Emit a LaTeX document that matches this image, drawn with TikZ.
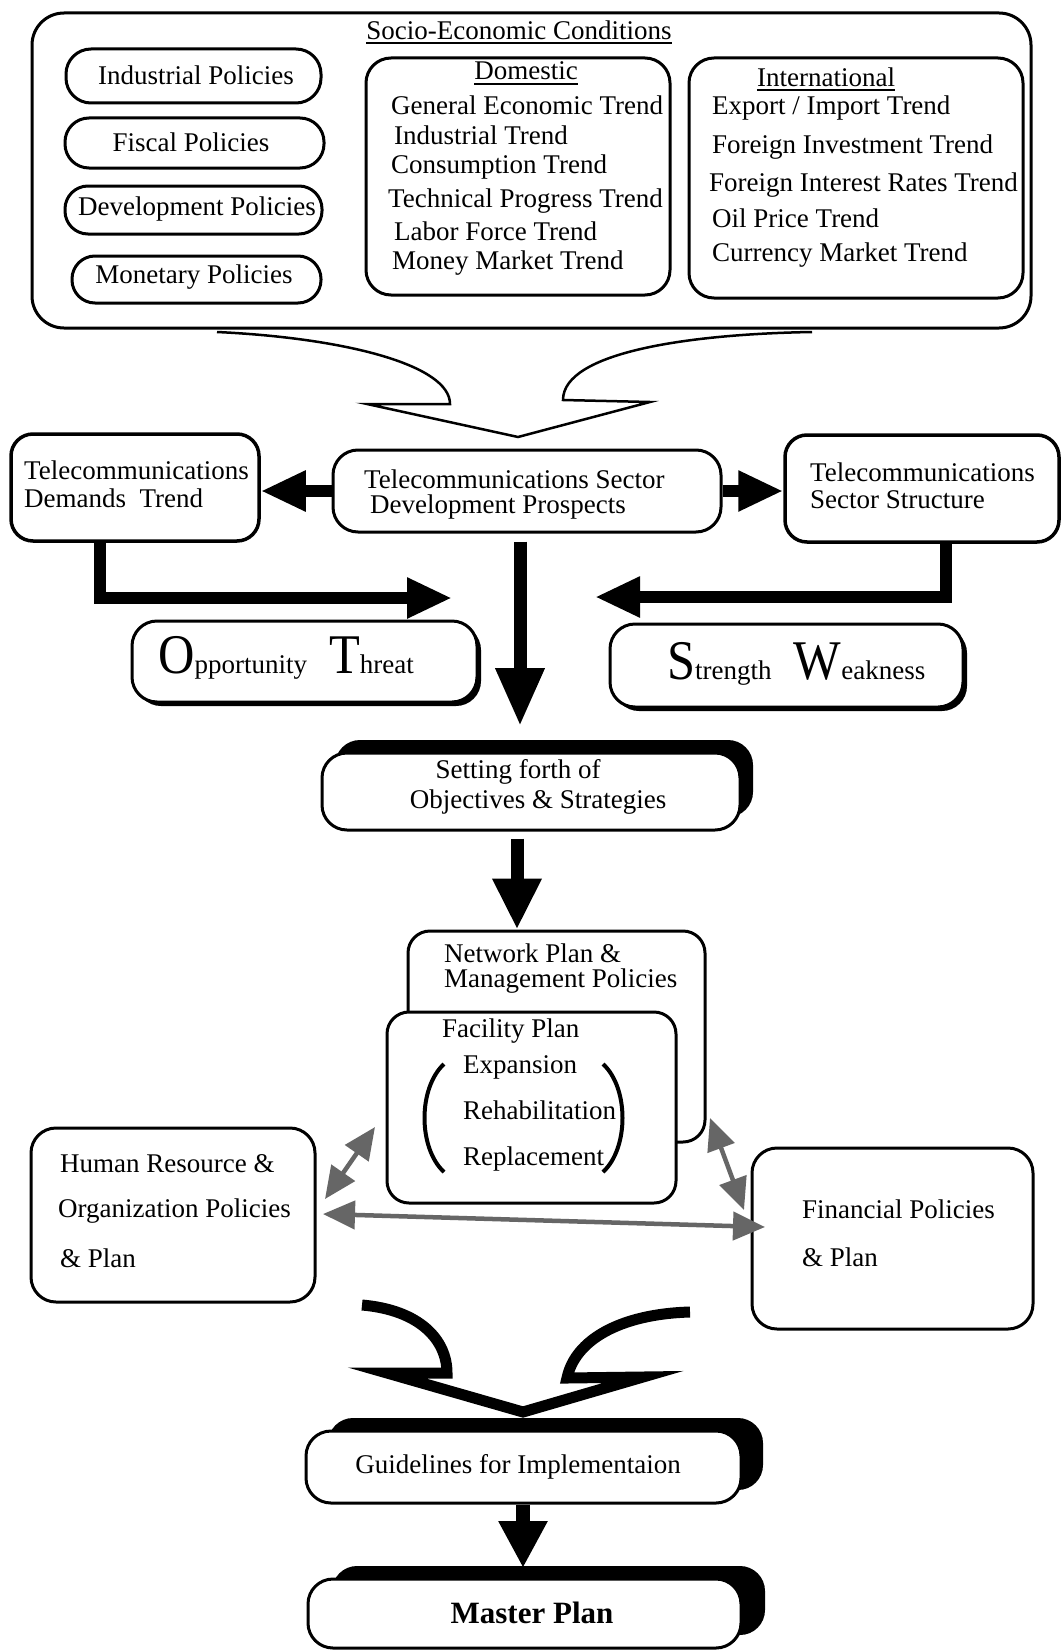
\documentclass[tikz,border=0pt]{standalone}
\usepackage{fontspec}
\setmainfont{Liberation Serif}
\newfontfamily\condserif[FakeStretch=0.9]{Liberation Serif}
\usetikzlibrary{arrows.meta,fit,shadows}
\begin{document}
\begin{tikzpicture}[x=1pt,y=-1pt,
  box/.style={draw, line width=3pt, rounded corners=22pt, inner sep=0pt, fill=white},
  txt/.style={font=\fontsize{27}{30}\selectfont, inner sep=0pt},
  lt/.style={txt, anchor=west},
  big/.style={},
  barrow/.style={line width=12pt, -{Triangle[length=45pt,width=38pt]}},
  garrow/.style={draw=black!60, line width=4.5pt, {Triangle[length=32pt,width=28pt]}-{Triangle[length=32pt,width=28pt]}},
  upshadow/.style={drop shadow={shadow xshift=#1pt, shadow yshift=13pt, opacity=1, fill=black}},
  dnshadow/.style={drop shadow={shadow xshift=4pt, shadow yshift=-4pt, opacity=1, fill=black}}
]
\useasboundingbox (0,0) rectangle (1062,1651);
\fill[white] (0,0) rectangle (1062,1651);

% ---------- Socio-economic conditions ----------
\node[box, rounded corners=32pt, fit={(32,13) (1031,328)}] (soc) {};
\node[txt] (soctitle) at (519,30) {Socio-Economic Conditions};
\draw[line width=1.5pt] ([yshift=-4pt]soctitle.base west) -- ([yshift=-4pt]soctitle.base east);

\node[box, rounded corners=25pt, fit={(66,49) (321,103)}] (ind) {};
\node[txt] (indt) at (196,75) {Industrial Policies};
\node[box, rounded corners=24pt, fit={(65,118) (324,168)}] (fis) {};
\node[txt] (fist) at (191,142) {Fiscal Policies};
\node[box, rounded corners=23pt, fit={(65,186) (322,234)}] (dev) {};
\node[txt] (devt) at (197,209) {Development Policies};
\node[box, rounded corners=23pt, fit={(72,256) (321,303)}] (mon) {};
\node[txt] (mont) at (194,277) {Monetary Policies};

\node[box, rounded corners=25pt, fit={(366,58) (670,295)}] (dom) {};
\node[txt] (domt) at (526,71) {Domestic};
\draw[line width=1.5pt] ([yshift=-4pt]domt.base west) -- ([yshift=-4pt]domt.base east);
\node[lt] (d1) at (391,105) {General Economic Trend};
\node[lt] (d2) at (394,135) {Industrial Trend};
\node[lt] (d3) at (391,167) {Consumption Trend};
\node[lt] (d4) at (388,201) {Technical Progress Trend};
\node[lt] (d5) at (394,231) {Labor Force Trend};
\node[lt] (d6) at (392,263) {Money Market Trend};

\node[box, rounded corners=25pt, fit={(689,58) (1023,298)}] (intl) {};
\node[txt] (intt) at (826,77) {International};
\draw[line width=1.5pt] ([yshift=-4pt]intt.base west) -- ([yshift=-4pt]intt.base east);
\node[lt] (i1) at (712,108) {Export / Import Trend};
\node[lt] (i2) at (712,147) {Foreign Investment Trend};
\node[lt] (i3) at (709,185) {Foreign Interest Rates Trend};
\node[lt] (i4) at (712,218) {Oil Price Trend};
\node[lt] (i5) at (712,255) {Currency Market Trend};

% ---------- top funnel ----------
\draw[line width=2.5pt, line join=miter]
  (217,332) .. controls (345,338) and (450,365) .. (450,404)
  -- (367,404) -- (518,437) -- (650,402) -- (563,400)
  .. controls (563,352) and (690,334) .. (812,332);

% ---------- middle row ----------
\node[box, line width=3.5pt, fit={(11,434) (259,541)}] (dem) {};
\node[lt] (demt1) at (24,470) {Telecommunications};
\node[lt] (demt2) at (24,498) {Demands\ \ Trend};

\node[box, rounded corners=25pt, fit={(333,450) (721,532)}] (ctr) {};
\node[lt] (ctrt1) at (364,479) {Telecommunications Sector};
\node[lt] (ctrt2) at (370,507) {Development Prospects};

\node[box, line width=3.5pt, fit={(785,435) (1059,542)}] (str) {};
\node[lt] (strt1) at (810,472) {Telecommunications};
\node[lt] (strt2) at (810,500) {Sector Structure};

\draw[barrow] (ctr.west) -- (ctr.west -| dem.east);
\draw[barrow] (ctr.east) -- (ctr.east -| str.west);

\coordinate (dtip) at (520,726);
\draw[line width=13pt, -{Triangle[length=58pt,width=46pt]}] ([yshift=-8pt]ctr.south -| dtip) -- (dtip);

\coordinate (demL) at (100,0);
\coordinate (oppT) at (452,598);
\draw[barrow] (dem.south -| demL) |- (oppT);
\coordinate (strR) at (946,0);
\coordinate (strT) at (595,597);
\draw[barrow] (str.south -| strR) |- (strT);

% ---------- SWOT ----------
\node[box, rounded corners=25pt, dnshadow, fit={(132,621) (477,702)}] (opp) {};
\node[txt, anchor=base west] (oppt) at (158,673)
  {{\condserif\fontsize{56}{56}\selectfont O}pportunity\hspace{22pt}{\condserif\fontsize{56}{56}\selectfont T}hreat};
\node[box, rounded corners=25pt, dnshadow, fit={(610,624) (963,707)}] (swk) {};
\node[txt, anchor=base west] (swkt) at (667,679)
  {{\condserif\fontsize{56}{56}\selectfont S}trength\hspace{22pt}{\condserif\fontsize{56}{56}\selectfont W}eakness};

% ---------- objectives ----------
\node[box, rounded corners=25pt, upshadow=13, fit={(322,753) (740,830)}] (set) {};
\node[txt] (sett1) at (518,772) {Setting forth of};
\node[txt] (sett2) at (538,802) {Objectives \& Strategies};

% ---------- network / facility ----------
\node[box, fit={(408,931) (705,1142)}] (net) {};
\node[lt] (nett1) at (444,953) {Network Plan \&};
\node[lt] (nett2) at (444,981) {Management Policies};

\coordinate (ntip) at (517,0);
\draw[barrow, line width=13pt, -{Triangle[length=51pt,width=46pt]}] ([yshift=-7pt]set.south -| ntip) -- (net.north -| ntip);

\node[box, fit={(387,1012) (676,1203)}] (fac) {};
\node[lt] (fact) at (442,1031) {Facility Plan};
\node[lt] (fac1) at (463,1067) {Expansion};
\node[lt] (fac2) at (463,1110) {Rehabilitation};
\node[lt] (fac3) at (463,1159) {Replacement};
\draw[line width=4pt] (444,1064) .. controls (418,1088) and (418,1148) .. (444,1172);
\draw[line width=4pt] (603,1064) .. controls (629,1088) and (629,1148) .. (603,1172);

% ---------- side boxes ----------
\node[box, rounded corners=25pt, fit={(31,1128) (315,1302)}] (hr) {};
\node[lt] (hrt1) at (60,1164) {Human Resource \&};
\node[lt] (hrt2) at (58,1211) {Organization Policies};
\node[lt] (hrt3) at (60,1258) {\& Plan};

\node[box, rounded corners=25pt, fit={(752,1148) (1033,1329)}] (fin) {};
\node[lt] (fint1) at (802,1209) {Financial Policies};
\node[lt] (fint2) at (802,1257) {\& Plan};

\coordinate (g1a) at (325,1199);
\coordinate (g1b) at (375,1127);
\coordinate (g2a) at (323,1214);
\coordinate (g2b) at (765,1227);
\coordinate (g3a) at (710,1118);
\coordinate (g3b) at (744,1210);
\draw[garrow] (g1a) -- (g1b);
\draw[garrow] (g2a) -- (g2b);
\draw[garrow] (g3a) -- (g3b);

% ---------- bottom funnel ----------
\draw[line width=11pt, line join=miter]
  (362,1305) .. controls (420,1310) and (447,1340) .. (447,1373)
  -- (387,1373) -- (523,1412) -- (643,1377) -- (567,1378)
  .. controls (575,1340) and (620,1314) .. (690,1312);

% ---------- guidelines / master ----------
\node[box, rounded corners=25pt, upshadow=22, fit={(306,1431) (741,1503)}] (guid) {};
\node[txt] (guidt) at (518,1467) {Guidelines for Implementaion};

\coordinate (mtip) at (523,1568);
\draw[barrow, line width=14pt, -{Triangle[length=47pt,width=46pt]}] (guid.south -| mtip) -- (mtip);

\node[box, rounded corners=25pt, upshadow=24, fit={(308,1579) (741,1648)}] (mas) {};
\node[txt, font=\fontsize{31}{34}\selectfont\bfseries] (mast) at (532,1613) {Master Plan};
\end{tikzpicture}
\end{document}
